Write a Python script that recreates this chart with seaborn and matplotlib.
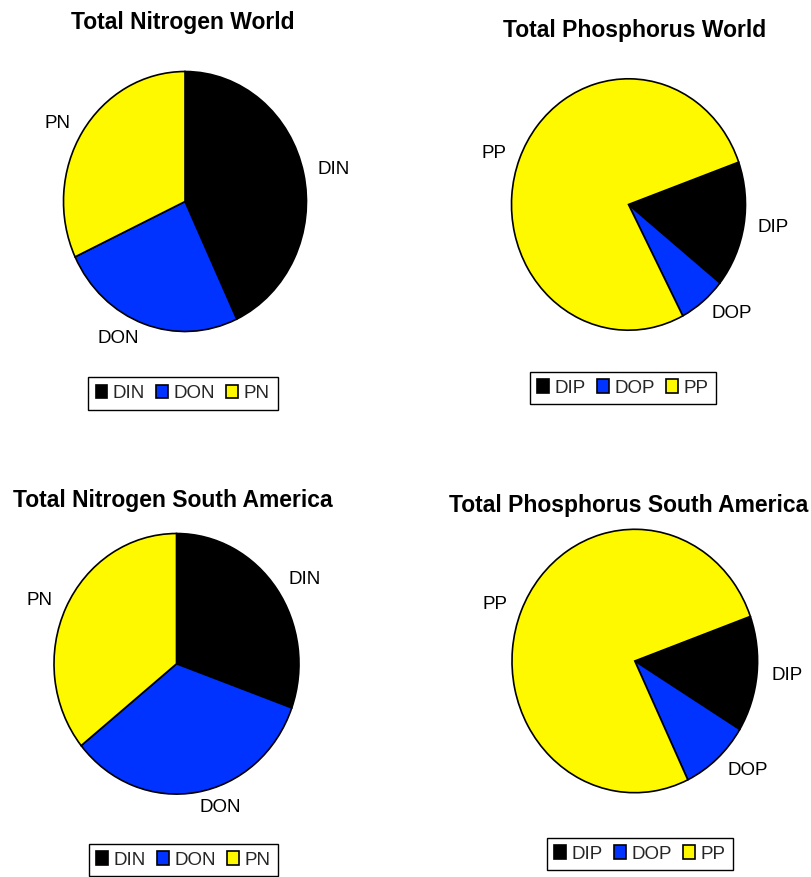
import matplotlib
matplotlib.use("Agg")
import matplotlib.pyplot as plt
import seaborn as sns

sns.set_theme(style="white")
plt.rcParams["font.family"] = ["Liberation Sans", "DejaVu Sans"]

# Fractions of total load (%)
nitrogen_labels = ["DIN", "DON", "PN"]
nitrogen_world = [43.0, 25.0, 32.0]
nitrogen_south_america = [30.5, 33.7, 35.8]

phosphorus_labels = ["DIP", "DOP", "PP"]
phosphorus_world = [16.2, 6.6, 77.2]
phosphorus_south_america = [14.2, 9.2, 76.6]

titles = [
    "Total Nitrogen World",
    "Total Phosphorus World",
    "Total Nitrogen South America",
    "Total Phosphorus South America",
]

fraction_colors = ["#000000", "#0033ff", "#fff900"]

W, H = 812, 877
fig = plt.figure(figsize=(W / 100, H / 100), dpi=100)


def pixel_axes(cx, cy, rx, ry):
    """Axes whose (-1.25, 1.25) data box spans 2.5 radii around a pixel centre."""
    w, h = 2.5 * rx, 2.5 * ry
    return fig.add_axes([(cx - w / 2) / W, 1 - (cy + h / 2) / H, w / W, h / H])


# values, labels, start angle, pie geometry (px), title centre (px), legend centre (px)
panels = [
    (nitrogen_world, nitrogen_labels, 90, (185.0, 201.5, 121.5, 130.0), (183, 22.7), (182.7, 393.3)),
    (phosphorus_world, phosphorus_labels, 19.7, (628.5, 204.5, 117.0, 125.7), (634.5, 30.7), (623, 388)),
    (nitrogen_south_america, nitrogen_labels, 90, (176.5, 663.8, 122.5, 130.3), (173.3, 500), (183.5, 860)),
    (phosphorus_south_america, phosphorus_labels, 19.8, (634.8, 661.0, 122.8, 131.7), (629, 505.7), (640, 854)),
]

for (values, labels, start, geom, tpos, lpos), title in zip(panels, titles):
    ax = pixel_axes(*geom)
    wedges, texts = ax.pie(
        values,
        labels=labels,
        colors=fraction_colors,
        startangle=start,
        counterclock=False,
        labeldistance=1.12,
        wedgeprops=dict(edgecolor="black", linewidth=1.2),
        textprops=dict(fontsize=13.5, color="black"),
    )
    ax.set_aspect("auto")
    ax.set_xlim(-1.25, 1.25)
    ax.set_ylim(-1.25, 1.25)
    ax.axis("off")

    fig.text(tpos[0] / W, 1 - tpos[1] / H, title, ha="center", va="center",
             fontsize=16.5, fontweight="bold", color="black")

    leg = fig.legend(
        wedges, labels, loc="center",
        bbox_to_anchor=(lpos[0] / W, 1 - lpos[1] / H),
        ncol=3, frameon=True, fancybox=False, framealpha=1,
        edgecolor="black", fontsize=13.5,
        handlelength=0.62, handleheight=0.7, handletextpad=0.3,
        columnspacing=0.6, borderpad=0.42,
    )
    leg.get_frame().set_linewidth(1.0)

fig.savefig("out.png", dpi=100)
